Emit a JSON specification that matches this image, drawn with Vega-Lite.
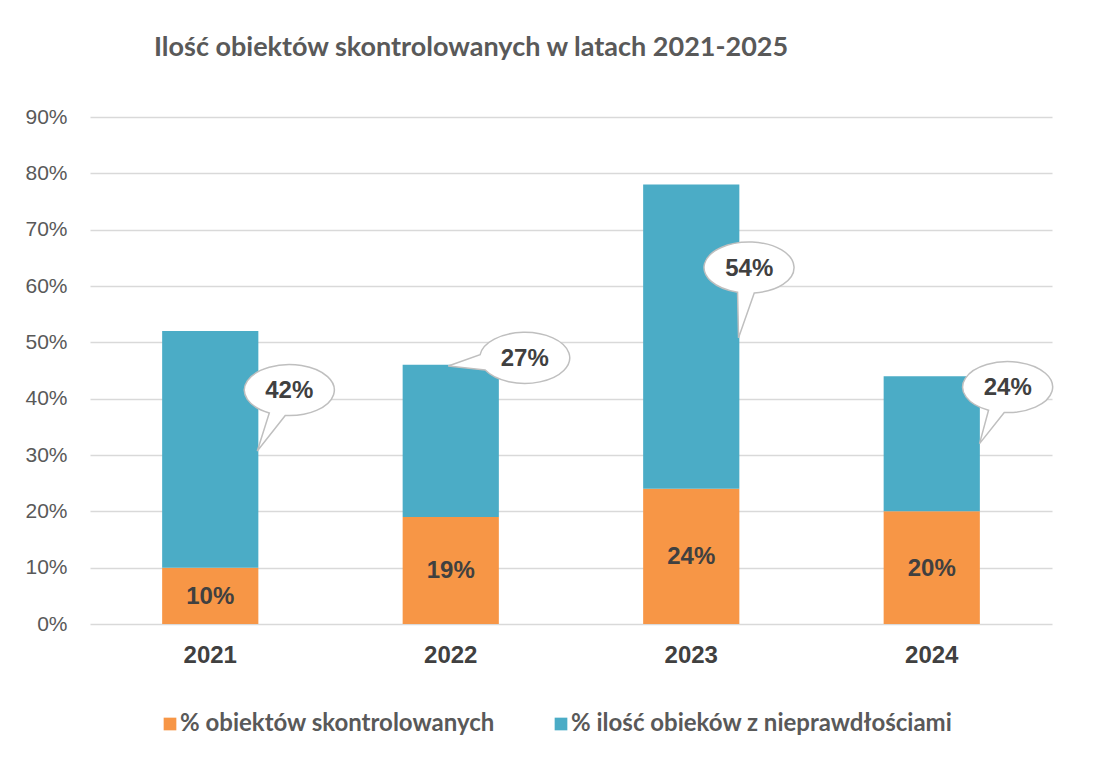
{
  "$schema": "https://vega.github.io/schema/vega-lite/v6.json",
  "width": 962,
  "height": 507,
  "autosize": {"type": "none"},
  "padding": {"left": 90, "top": 117, "right": 44, "bottom": 134},
  "background": "white",
  "title": {
    "text": "Ilość obiektów skontrolowanych w latach 2021-2025",
    "anchor": "start",
    "frame": "group",
    "dx": 64,
    "offset": 44,
    "font": "Lato",
    "fontSize": 27,
    "fontWeight": "bold",
    "color": "#595959"
  },
  "data": {
    "values": [
      {"year": "2021", "series": "% obiektów skontrolowanych", "value": 0.10},
      {"year": "2021", "series": "% ilość obieków z nieprawdłościami", "value": 0.42},
      {"year": "2022", "series": "% obiektów skontrolowanych", "value": 0.19},
      {"year": "2022", "series": "% ilość obieków z nieprawdłościami", "value": 0.27},
      {"year": "2023", "series": "% obiektów skontrolowanych", "value": 0.24},
      {"year": "2023", "series": "% ilość obieków z nieprawdłościami", "value": 0.54},
      {"year": "2024", "series": "% obiektów skontrolowanych", "value": 0.20},
      {"year": "2024", "series": "% ilość obieków z nieprawdłościami", "value": 0.24}
    ]
  },
  "transform": [
    {"joinaggregate": [{"op": "sum", "field": "value", "as": "total"}], "groupby": ["year"]}
  ],
  "layer": [
    {
      "mark": {"type": "bar"},
      "encoding": {
        "x": {"field": "year", "type": "nominal", "scale": {"paddingInner": 0.6, "paddingOuter": 0.3}, "axis": {"title": null}},
        "y": {
          "field": "value",
          "type": "quantitative",
          "stack": "zero",
          "scale": {"domain": [0, 0.9]},
          "axis": {"title": null, "values": [0, 0.1, 0.2, 0.3, 0.4, 0.5, 0.6, 0.7, 0.8, 0.9], "format": ".0%"}
        },
        "color": {
          "field": "series",
          "type": "nominal",
          "scale": {"domain": ["% obiektów skontrolowanych", "% ilość obieków z nieprawdłościami"], "range": ["#F79646", "#4BACC6"]},
          "legend": {
            "title": null,
            "orient": "none",
            "legendX": 68,
            "legendY": 595,
            "direction": "horizontal",
            "symbolType": "square",
            "symbolSize": 161,
            "symbolStrokeWidth": 0,
            "labelFont": "Lato",
            "labelFontSize": 24,
            "labelFontWeight": "bold",
            "labelColor": "#595959",
            "labelOffset": -2,
            "labelLimit": 500,
            "columnPadding": 54,
            "padding": 0
          }
        },
        "order": {"field": "series", "sort": "descending"}
      }
    },
    {
      "transform": [{"filter": "datum.series === '% obiektów skontrolowanych'"}],
      "mark": {"type": "text", "font": "Liberation Sans", "fontWeight": "bold", "fontSize": 24, "color": "#404040", "baseline": "middle", "dy": 1},
      "encoding": {
        "x": {"field": "year", "type": "nominal"},
        "y": {"field": "value", "type": "quantitative", "stack": "zero", "bandPosition": 0.5},
        "text": {"field": "value", "type": "quantitative", "format": ".0%"}
      }
    },
    {
      "transform": [{"filter": "datum.series !== '% obiektów skontrolowanych' && datum.year === '2021'"}],
      "layer": [
        {
          "mark": {"type": "point", "shape": "M 1.667 1.876 L 1.045 2.667 L 1.312 1.819 A 1 0.567 0 1 1 1.667 1.876 Z", "size": 8100, "filled": true, "fill": "white", "stroke": "#BFBFBF", "strokeWidth": 1.5, "opacity": 1},
          "encoding": {"x": {"field": "year", "type": "nominal"}, "y": {"field": "total", "type": "quantitative"}}
        },
        {
          "mark": {"type": "text", "font": "Liberation Sans", "fontWeight": "bold", "fontSize": 24, "color": "#404040", "baseline": "middle", "dx": 79, "dy": 60},
          "encoding": {"x": {"field": "year", "type": "nominal"}, "y": {"field": "total", "type": "quantitative"}, "text": {"field": "value", "type": "quantitative", "format": ".0%"}}
        }
      ]
    },
    {
      "transform": [{"filter": "datum.series !== '% obiektów skontrolowanych' && datum.year === '2022'"}],
      "layer": [
        {
          "mark": {"type": "point", "shape": "M 0.766 0.116 L -0.056 0.024 L 0.651 -0.224 A 1 0.567 0 1 1 0.766 0.116 Z", "size": 8100, "filled": true, "fill": "white", "stroke": "#BFBFBF", "strokeWidth": 1.5, "opacity": 1},
          "encoding": {"x": {"field": "year", "type": "nominal"}, "y": {"field": "total", "type": "quantitative"}}
        },
        {
          "mark": {"type": "text", "font": "Liberation Sans", "fontWeight": "bold", "fontSize": 24, "color": "#404040", "baseline": "middle", "dx": 74, "dy": -6},
          "encoding": {"x": {"field": "year", "type": "nominal"}, "y": {"field": "total", "type": "quantitative"}, "text": {"field": "value", "type": "quantitative", "format": ".0%"}}
        }
      ]
    },
    {
      "transform": [{"filter": "datum.series !== '% obiektów skontrolowanych' && datum.year === '2023'"}],
      "layer": [
        {
          "mark": {"type": "point", "shape": "M 1.400 2.407 L 1.051 3.406 L 1.029 2.392 A 1 0.567 0 1 1 1.400 2.407 Z", "size": 8100, "filled": true, "fill": "white", "stroke": "#BFBFBF", "strokeWidth": 1.5, "opacity": 1},
          "encoding": {"x": {"field": "year", "type": "nominal"}, "y": {"field": "total", "type": "quantitative"}}
        },
        {
          "mark": {"type": "text", "font": "Liberation Sans", "fontWeight": "bold", "fontSize": 24, "color": "#404040", "baseline": "middle", "dx": 58, "dy": 84},
          "encoding": {"x": {"field": "year", "type": "nominal"}, "y": {"field": "total", "type": "quantitative"}, "text": {"field": "value", "type": "quantitative", "format": ".0%"}}
        }
      ]
    },
    {
      "transform": [{"filter": "datum.series !== '% obiektów skontrolowanych' && datum.year === '2024'"}],
      "layer": [
        {
          "mark": {"type": "point", "shape": "M 1.611 0.809 L 1.062 1.500 L 1.262 0.757 A 1 0.567 0 1 1 1.611 0.809 Z", "size": 8100, "filled": true, "fill": "white", "stroke": "#BFBFBF", "strokeWidth": 1.5, "opacity": 1},
          "encoding": {"x": {"field": "year", "type": "nominal"}, "y": {"field": "total", "type": "quantitative"}}
        },
        {
          "mark": {"type": "text", "font": "Liberation Sans", "fontWeight": "bold", "fontSize": 24, "color": "#404040", "baseline": "middle", "dx": 76, "dy": 12},
          "encoding": {"x": {"field": "year", "type": "nominal"}, "y": {"field": "total", "type": "quantitative"}, "text": {"field": "value", "type": "quantitative", "format": ".0%"}}
        }
      ]
    }
  ],
  "config": {
    "view": {"stroke": null},
    "axisX": {
      "domain": false,
      "ticks": false,
      "labelAngle": 0,
      "labelFont": "Liberation Sans",
      "labelFontWeight": "bold",
      "labelFontSize": 24,
      "labelColor": "#404040",
      "labelPadding": 19
    },
    "axisY": {
      "domain": false,
      "ticks": false,
      "grid": true,
      "gridColor": "#D9D9D9",
      "gridWidth": 1.3,
      "labelFont": "Liberation Sans",
      "labelFontSize": 21,
      "labelColor": "#595959",
      "labelPadding": 23
    }
  }
}
